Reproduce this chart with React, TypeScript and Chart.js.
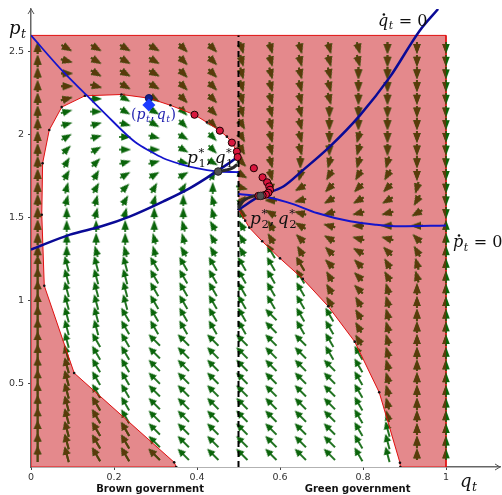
import React, { useEffect, useRef } from 'react';
import { Chart, registerables } from 'chart.js';
Chart.register(...registerables);

// ---------------- data ----------------
const X_TICKS = [0, 0.2, 0.4, 0.6, 0.8, 1];
const Y_TICKS = [0.5, 1, 1.5, 2, 2.5];

// shaded (red) rectangle q in [0,1], p in [0,2.6]
const RED_REGION: [number, number][] = [[0, 0], [0, 2.6], [1, 2.6], [1, 0], [0, 0]];

// separatrix / basin boundary (red line with small black vertices)
const LEFT_BOUNDARY: [number, number][] = [
  [0.35, 0], [0.345, 0.028], [0.104, 0.566], [0.032, 1.092], [0.026, 1.52], [0.028, 1.83],
  [0.044, 2.03], [0.074, 2.168], [0.13, 2.236], [0.218, 2.244], [0.284, 2.222], [0.336, 2.179],
  [0.394, 2.122], [0.424, 2.076], [0.455, 2.026], [0.472, 1.99], [0.484, 1.954], [0.496, 1.9], [0.499, 1.867],
];
const RIGHT_BOUNDARY: [number, number][] = [
  [0.5, 1.552], [0.516, 1.484], [0.526, 1.442], [0.557, 1.36], [0.6, 1.257], [0.655, 1.133],
  [0.716, 0.968], [0.78, 0.755], [0.839, 0.45], [0.889, 0.026], [0.89, 0],
];
const DIVIDE_Q = [0.5, 0.5];
const DIVIDE_P = [0, 2.6];

// nullclines
const PDOT_LEFT: [number, number][] = [
  [0, 2.6], [0.078, 2.38], [0.134, 2.24], [0.182, 2.12], [0.231, 2.0], [0.255, 1.95], [0.285, 1.905],
  [0.319, 1.86], [0.36, 1.825], [0.399, 1.8], [0.447, 1.781], [0.5, 1.776],
];
const QDOT_LEFT: [number, number][] = [
  [0, 1.31], [0.094, 1.4], [0.17, 1.45], [0.239, 1.51], [0.319, 1.6], [0.383, 1.68], [0.447, 1.78], [0.5, 1.87],
];
const QDOT_RIGHT: [number, number][] = [
  [0.5, 1.55], [0.552, 1.633], [0.608, 1.69], [0.656, 1.79], [0.72, 1.93], [0.793, 2.12], [0.865, 2.35],
  [0.937, 2.63], [0.981, 2.759],
];
const PDOT_RIGHT: [number, number][] = [
  [0.5, 1.645], [0.576, 1.622], [0.63, 1.585], [0.689, 1.53], [0.769, 1.48], [0.83, 1.46], [0.889, 1.45], [1.0, 1.455],
];

// trajectories
const TRAJ_1: [number, number][] = [[0.453, 1.781], [0.47, 1.789], [0.485, 1.8], [0.497, 1.823]];
const TRAJ_2: [number, number][] = [[0.5, 1.556], [0.505, 1.585], [0.516, 1.612], [0.532, 1.629], [0.545, 1.634], [0.555, 1.635]];
const RED_DOTS: [number, number][] = [
  [0.394, 2.122], [0.455, 2.026], [0.484, 1.954], [0.496, 1.9], [0.498, 1.867],
  [0.537, 1.8], [0.558, 1.745], [0.569, 1.715], [0.574, 1.69], [0.576, 1.67], [0.572, 1.652],
  [0.566, 1.641], [0.558, 1.635], [0.548, 1.633],
];
const EQUILIBRIA: [number, number][] = [[0.451, 1.78], [0.553, 1.633]];
const CURRENT_DOT: [number, number][] = [[0.284, 2.222]];
const CURRENT_DIAMOND: [number, number][] = [[0.284, 2.18]];

// vector field grid
const ARROW_Q = [0.016, 0.086, 0.157, 0.227, 0.297, 0.367, 0.438, 0.508, 0.578, 0.649, 0.719, 0.789, 0.859, 0.93, 1.0];
const ARROW_P = [
  0.076, 0.153, 0.229, 0.306, 0.382, 0.459, 0.535, 0.612, 0.688, 0.765, 0.841, 0.918, 0.994, 1.071, 1.147,
  1.224, 1.3, 1.376, 1.453, 1.529, 1.606, 1.682, 1.759, 1.835, 1.912, 1.988, 2.065, 2.141, 2.218, 2.294,
  2.371, 2.447, 2.524,
];
// one string per column, bottom row first; letter = direction in 15° steps (a = 0°, g = 90° up, m = 180°, s = 270° down)
// upper case = long arrow with shaft, lower case = short arrow head
const ARROW_DIRS = [
  'GGGGGGGGGGGGGGGGggggggggggggggggg',
  'HHHHHHHHHHHHHHHHggggffeedcbbbaaxw',
  'IIIIIIIIIIHHHHHHhggffeedcbbaaxwww',
  'IIIIIIIIIIIIHHHHhggfedcbaaxwwwwww',
  'JJJJJJJJJJIIIIIIhhggfecbaxwwwwwww',
  'JJJJJJJJJJIIIIIIihhggecxwwvvvvvvv',
  'JJJJJJJJJJIIIIIIiiihhgewvvvvvvvvv',
  'JJJJJJJJJJIIIIIIiiihdxwvuuutttttt',
  'JJJJJJJJJJJJIIIIIiikmsttttttttttt',
  'JJJJJJJJJJIIIIIIijklnorsttttttttt',
  'JJJJJJJJIIIIiiijjklnopqrsssstttttt',
  'IIIIIIIIIiiiijjjklmnopqrrrssssstt',
  'HHHhhhhhhhhhhhiijlmnopqrsssssssss',
  'gggggggggggggghhijmoqrsssssssssss',
  'gggggggggggggggggggssssssssssssss',
];

// ---------------- styles ----------------
const RED_FILL = '#e4898c';
const RED_LINE = '#e01010';
const GREEN = '#0a640a';
const BROWN = '#5a3a0a';
const SERIF = '"DejaVu Serif", "Liberation Serif", serif';

const toXY = (pts: [number, number][]) => pts.map(([x, y]) => ({ x, y }));

function makeArrow(color: string, total: number, headLen: number, headW: number, shaftW: number) {
  const c = document.createElement('canvas');
  const h = Math.ceil(headW) + 2;
  c.width = total;
  c.height = h;
  const g = c.getContext('2d')!;
  const cy = h / 2;
  g.fillStyle = color;
  g.fillRect(0, cy - shaftW / 2, total - headLen + 0.5, shaftW);
  g.beginPath();
  g.moveTo(total - headLen, cy - headW / 2);
  g.lineTo(total, cy);
  g.lineTo(total - headLen, cy + headW / 2);
  g.closePath();
  g.fill();
  return c;
}

type Tok = { t?: string; r?: boolean; dot?: boolean; sup?: string; sub?: string; subIt?: boolean; gap?: number };

function drawMath(ctx: CanvasRenderingContext2D, x: number, y: number, size: number, color: string, toks: Tok[]) {
  ctx.save();
  ctx.fillStyle = color;
  ctx.textAlign = 'left';
  ctx.textBaseline = 'alphabetic';
  let cx = x;
  for (const tk of toks) {
    if (tk.t) {
      ctx.font = `${tk.r ? '' : 'italic '}${size}px ${SERIF}`;
      ctx.fillText(tk.t, cx, y);
      const w = ctx.measureText(tk.t).width;
      if (tk.dot) {
        ctx.beginPath();
        ctx.arc(cx + w * 0.58, y - size * 0.72, size * 0.08, 0, Math.PI * 2);
        ctx.fill();
      }
      cx += w;
    }
    if (tk.sup || tk.sub) {
      const s2 = size * 0.68;
      let w2 = 0;
      if (tk.sup) {
        ctx.font = `${s2}px ${SERIF}`;
        ctx.fillText(tk.sup, cx + 0.5, y - size * 0.42);
        w2 = Math.max(w2, ctx.measureText(tk.sup).width);
      }
      if (tk.sub) {
        ctx.font = `${tk.subIt ? 'italic ' : ''}${s2}px ${SERIF}`;
        ctx.fillText(tk.sub, cx + 0.5, y + size * 0.22);
        w2 = Math.max(w2, ctx.measureText(tk.sub).width);
      }
      cx += w2 + 1;
    }
    if (tk.gap) cx += tk.gap;
  }
  ctx.restore();
}

function tracePoly(ctx: CanvasRenderingContext2D, chart: any, pts: [number, number][]) {
  const xs = chart.scales.x, ys = chart.scales.y;
  pts.forEach(([q, p], i) => {
    const px = xs.getPixelForValue(q), py = ys.getPixelForValue(p);
    if (i === 0) ctx.moveTo(px, py); else ctx.lineTo(px, py);
  });
  ctx.closePath();
}

export default function App() {
  const ref = useRef<HTMLCanvasElement>(null);

  useEffect(() => {
    const canvas = ref.current!;
    Chart.defaults.font.family = '"DejaVu Sans", sans-serif';

    const imgs = {
      gS: makeArrow(GREEN, 12, 10, 7.5, 1.6),
      gL: makeArrow(GREEN, 16, 8, 7.5, 1.8),
      bS: makeArrow(BROWN, 12, 10, 7.5, 1.6),
      bL: makeArrow(BROWN, 16, 8, 7.5, 1.8),
    };

    const buildArrows = () => {
      const out: any[] = [];
      ARROW_DIRS.forEach((col, k) => {
        for (let j = 0; j < ARROW_P.length; j++) {
          const ch = col[j];
          const low = ch.toLowerCase();
          out.push({ x: ARROW_Q[k], y: ARROW_P[j], a: (low.charCodeAt(0) - 97) * 15, long: ch !== low });
        }
      });
      return out;
    };

    const whitePoly: [number, number][] = [...LEFT_BOUNDARY, [0.5, 1.867], ...RIGHT_BOUNDARY, LEFT_BOUNDARY[0]];

    const clipPlugin = {
      id: 'clipRed',
      beforeDatasetDraw(chart: any, args: any) {
        const ds = chart.data.datasets[args.index];
        if (!ds.clipToRed) return;
        const ctx = chart.ctx;
        ctx.save();
        ctx.beginPath();
        tracePoly(ctx, chart, RED_REGION);
        tracePoly(ctx, chart, whitePoly);
        ctx.clip('evenodd');
      },
      afterDatasetDraw(chart: any, args: any) {
        const ds = chart.data.datasets[args.index];
        if (ds.clipToRed) chart.ctx.restore();
      },
    };

    const decorPlugin = {
      id: 'decor',
      afterDraw(chart: any) {
        const ctx = chart.ctx as CanvasRenderingContext2D;
        const { left, top, right, bottom } = chart.chartArea;
        const xs = chart.scales.x, ys = chart.scales.y;
        const X = (q: number) => xs.getPixelForValue(q);
        const Y = (p: number) => ys.getPixelForValue(p);
        // axis arrow heads
        ctx.save();
        ctx.strokeStyle = '#555';
        ctx.lineWidth = 1;
        ctx.beginPath();
        ctx.moveTo(left - 3, top + 5); ctx.lineTo(left, top); ctx.lineTo(left + 3, top + 5);
        ctx.moveTo(right - 5, bottom - 3); ctx.lineTo(right, bottom); ctx.lineTo(right - 5, bottom + 3);
        ctx.stroke();
        ctx.restore();

        // math labels
        drawMath(ctx, 9, 34, 18, '#111', [{ t: 'p', sub: 't', subIt: true }]);
        drawMath(ctx, 460, 487, 18, '#111', [{ t: 'q', sub: 't', subIt: true }]);
        drawMath(ctx, X(0.836), Y(2.657), 16, '#111', [{ t: 'q', dot: true, sub: 't', subIt: true }, { t: ' = 0', r: true }]);
        drawMath(ctx, X(1.017), Y(1.325), 16, '#111', [{ t: 'p', dot: true, sub: 't', subIt: true }, { t: ' = 0', r: true }]);
        drawMath(ctx, X(0.241), Y(2.096), 14, '#2323b0', [
          { t: '(', r: true }, { t: 'p', sub: 't', subIt: true }, { t: ',', r: true, gap: 2 },
          { t: 'q', sub: 't', subIt: true }, { t: ')', r: true },
        ]);
        drawMath(ctx, X(0.376), Y(1.831), 17, '#111', [
          { t: 'p', sup: '*', sub: '1' }, { t: ',', r: true, gap: 3 }, { t: 'q', sup: '*', sub: '1' },
        ]);
        drawMath(ctx, X(0.528), Y(1.464), 17, '#111', [
          { t: 'p', sup: '*', sub: '2' }, { t: ',', r: true, gap: 3 }, { t: 'q', sup: '*', sub: '2' },
        ]);

        // regime captions
        ctx.save();
        ctx.fillStyle = '#111';
        ctx.font = 'bold 10px "DejaVu Sans", sans-serif';
        ctx.textAlign = 'center';
        ctx.textBaseline = 'alphabetic';
        ctx.fillText('Brown government', X(0.287), 492);
        ctx.fillText('Green government', X(0.787), 492);
        ctx.restore();
      },
    };

    const arrowStyle = (green: boolean) => (c: any) => {
      const r = c.raw;
      if (!r) return 'circle';
      if (green) return r.long ? imgs.gL : imgs.gS;
      return r.long ? imgs.bL : imgs.bS;
    };

    const lineDs = (label: string, pts: [number, number][], color: string, width: number, order: number, extra: any = {}) => ({
      type: 'line', label, data: toXY(pts), borderColor: color, borderWidth: width, pointRadius: 0,
      fill: false, order, ...extra,
    });

    const zeroPad = (s: any) => { s.paddingLeft = 0; s.paddingRight = 0; s.paddingTop = 0; s.paddingBottom = 0; };

    const chart = new Chart(canvas, {
      type: 'scatter',
      data: {
        datasets: [
          lineDs('region', RED_REGION, RED_LINE, 1, 100, { fill: 'shape', backgroundColor: RED_FILL }),
          lineDs('basin', whitePoly, 'rgba(0,0,0,0)', 0, 95, { fill: 'shape', backgroundColor: '#ffffff' }),
          {
            type: 'scatter', label: 'field', data: buildArrows(), order: 90, pointRadius: 4,
            pointStyle: arrowStyle(true), rotation: (c: any) => (c.raw ? -c.raw.a : 0),
          },
          {
            type: 'scatter', label: 'fieldRed', clipToRed: true, data: buildArrows(), order: 89, pointRadius: 4,
            pointStyle: arrowStyle(false), rotation: (c: any) => (c.raw ? -c.raw.a : 0),
          } as any,
          lineDs('divide', DIVIDE_Q.map((q, i) => [q, DIVIDE_P[i]] as [number, number]), '#000', 2, 80, { borderDash: [6, 4] }),
          lineDs('bLeft', LEFT_BOUNDARY, RED_LINE, 1, 70, { pointRadius: 1.3, pointBackgroundColor: '#111', pointBorderWidth: 0 }),
          lineDs('bRight', RIGHT_BOUNDARY, RED_LINE, 1, 71, { pointRadius: 1.3, pointBackgroundColor: '#111', pointBorderWidth: 0 }),
          lineDs('pdotL', PDOT_LEFT, '#1414cc', 1.8, 60, { cubicInterpolationMode: 'monotone' }),
          lineDs('qdotL', QDOT_LEFT, '#0a0a96', 2.5, 61, { cubicInterpolationMode: 'monotone' }),
          lineDs('qdotR', QDOT_RIGHT, '#0a0a96', 2.5, 62, { cubicInterpolationMode: 'monotone' }),
          lineDs('pdotR', PDOT_RIGHT, '#1414cc', 2, 63, { cubicInterpolationMode: 'monotone' }),
          lineDs('traj1', TRAJ_1, '#2a2a2a', 3, 50, { cubicInterpolationMode: 'monotone' }),
          lineDs('traj2', TRAJ_2, '#2a2a2a', 3, 51, { cubicInterpolationMode: 'monotone' }),
          {
            type: 'scatter', label: 'redDots', data: toXY(RED_DOTS), order: 40, pointRadius: 3.6,
            pointBackgroundColor: '#d8173e', pointBorderColor: '#1a0000', pointBorderWidth: 1,
          },
          {
            type: 'scatter', label: 'eq', data: toXY(EQUILIBRIA), order: 35, pointRadius: 3.8,
            pointBackgroundColor: '#505050', pointBorderColor: '#222', pointBorderWidth: 1,
          },
          {
            type: 'scatter', label: 'now', data: toXY(CURRENT_DOT), order: 31, pointRadius: 3.6,
            pointBackgroundColor: '#10208c', pointBorderColor: '#0a1060', pointBorderWidth: 1,
          },
          {
            type: 'scatter', label: 'nowD', data: toXY(CURRENT_DIAMOND), order: 30, pointRadius: 6.5,
            pointStyle: 'rectRot', pointBackgroundColor: '#1c3cff', pointBorderColor: '#1c3cff', pointBorderWidth: 0,
          },
        ] as any,
      },
      options: {
        animation: false,
        responsive: true,
        maintainAspectRatio: false,
        events: [],
        layout: { autoPadding: false, padding: { top: 9, right: 2, left: 0, bottom: 0 } },
        plugins: { legend: { display: false }, tooltip: { enabled: false } },
        scales: {
          x: {
            type: 'linear', min: 0, max: 1.1301,
            afterFit: (s: any) => { s.height = 28; zeroPad(s); },
            afterBuildTicks: (s: any) => { s.ticks = X_TICKS.map((v) => ({ value: v })); },
            ticks: { font: { size: 9.5 }, color: '#333', padding: 2, maxRotation: 0, callback: (v: any) => String(v) },
            grid: { display: true, drawOnChartArea: false, drawTicks: true, tickLength: 3, color: '#444' },
            border: { display: true, color: '#666', width: 1.5 },
          },
          y: {
            type: 'linear', min: 0, max: 2.759,
            afterFit: (s: any) => { s.width = 31; zeroPad(s); },
            afterBuildTicks: (s: any) => { s.ticks = Y_TICKS.map((v) => ({ value: v })); },
            ticks: { font: { size: 9.5 }, color: '#333', padding: 4, callback: (v: any) => String(v) },
            grid: { display: true, drawOnChartArea: false, drawTicks: true, tickLength: 3, color: '#444' },
            border: { display: true, color: '#666', width: 1.5 },
          },
        },
      } as any,
      plugins: [clipPlugin, decorPlugin],
    });

    return () => chart.destroy();
  }, []);

  return (
    <div style={{ position: 'fixed', left: 0, top: 0, width: 502, height: 495, background: '#fff' }}>
      <canvas ref={ref} />
    </div>
  );
}
